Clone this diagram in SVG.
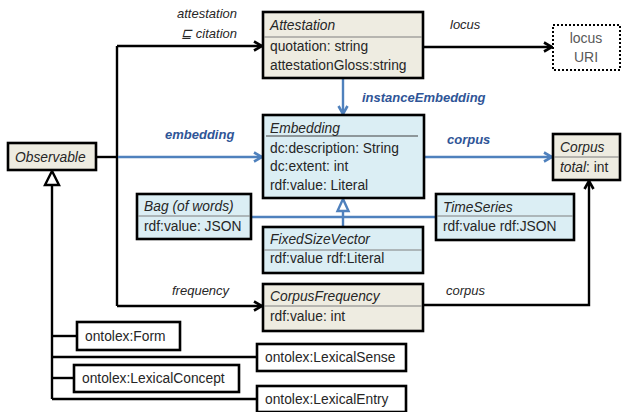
<svg xmlns="http://www.w3.org/2000/svg" width="623" height="412" viewBox="0 0 623 412">
<style>
  text { font-family: "Liberation Sans", Arial, sans-serif; font-size: 13.8px; fill: #262626; }
  .it { font-style: italic; }
  .lbl { font-style: italic; font-size: 13px; fill: #262626; }
  .blbl { font-style: italic; font-weight: bold; font-size: 13px; fill: #2f5597; }
  .box { stroke: #000; stroke-width: 2.6; }
  .beige { fill: #eeece1; }
  .blue { fill: #dbeef4; }
  .white { fill: #fff; }
  .div { stroke: #7f7f7f; stroke-width: 1; }
  .k { fill: none; stroke: #000; stroke-width: 2.4; }
  .b { fill: none; stroke: #4f81bd; stroke-width: 2.4; }
  .uri { fill: #595959; font-size: 14px; }
</style>
<defs>
  <marker id="ak" viewBox="0 0 12 12" refX="10" refY="6" markerWidth="12" markerHeight="12" markerUnits="userSpaceOnUse" orient="auto">
    <path d="M2,1.5 L10,6 L2,10.5" fill="none" stroke="#000" stroke-width="2.6"/>
  </marker>
  <marker id="ab" viewBox="0 0 12 12" refX="10" refY="6" markerWidth="12" markerHeight="12" markerUnits="userSpaceOnUse" orient="auto">
    <path d="M2,1.5 L10,6 L2,10.5" fill="none" stroke="#4f81bd" stroke-width="2.6"/>
  </marker>
</defs>
<rect width="623" height="412" fill="#fff"/>

<g id="connectors">
  <path class="k" d="M96,157 H117"/>
  <path class="k" d="M117,46 V306"/>
  <path class="k" d="M117,46 H262" marker-end="url(#ak)"/>
  <path class="k" d="M117,306 H262" marker-end="url(#ak)"/>
  <path class="b" d="M118,157 H262" marker-end="url(#ab)"/>
  <path class="k" d="M423,47 H552" marker-end="url(#ak)"/>
  <path class="b" d="M343,78 V114" marker-end="url(#ab)"/>
  <path class="b" d="M424,157 H552" marker-end="url(#ab)"/>
  <path class="b" d="M251,217 H436"/>
  <path class="b" d="M343,211 V227"/>
  <polygon points="343,199 337.5,211 348.5,211" fill="#fff" stroke="#4f81bd" stroke-width="2.4"/>
  <path class="k" d="M423,305 H589 V181" marker-end="url(#ak)"/>
  <path class="k" d="M52,185 V399"/>
  <path class="k" d="M52,336 H77"/>
  <path class="k" d="M52,357 H257"/>
  <path class="k" d="M52,378 H74"/>
  <path class="k" d="M52,399 H257"/>
  <polygon points="52,171 45,185 59,185" fill="#fff" stroke="#000" stroke-width="2.4"/>
  <text class="lbl" x="237" y="18" text-anchor="end">attestation</text>
  <text class="lbl" x="237" y="38" text-anchor="end">⊑ citation</text>
  <text class="lbl" x="450" y="29">locus</text>
  <text class="blbl" x="362" y="102">instanceEmbedding</text>
  <text class="blbl" x="165" y="139">embedding</text>
  <text class="blbl" x="447" y="144">corpus</text>
  <text class="lbl" x="172" y="295">frequency</text>
  <text class="lbl" x="446" y="295">corpus</text>
</g>

<g id="observable">
  <rect class="box beige" x="8" y="143" width="88" height="27"/>
  <text class="it" x="15" y="162">Observable</text>
</g>

<g id="attestation">
  <rect class="box beige" x="263" y="12" width="160" height="66"/>
  <line class="div" x1="264" y1="37" x2="422" y2="37"/>
  <text class="it" x="270" y="30">Attestation</text>
  <text x="270" y="51">quotation: string</text>
  <text x="270" y="70">attestationGloss:string</text>
</g>

<g id="locus-uri">
  <rect x="553" y="25" width="67" height="45" fill="#fff" stroke="#000" stroke-width="2" stroke-dasharray="2,2"/>
  <text class="uri" x="586" y="43" text-anchor="middle">locus</text>
  <text class="uri" x="586" y="62" text-anchor="middle">URI</text>
</g>

<g id="embedding">
  <rect class="box blue" x="263" y="115" width="161" height="83"/>
  <line x1="266" y1="136" x2="418" y2="136" stroke="#404040" stroke-width="1"/>
  <text class="it" x="270" y="133">Embedding</text>
  <text x="270" y="153">dc:description: String</text>
  <text x="270" y="171">dc:extent: int</text>
  <text x="270" y="190">rdf:value: Literal</text>
</g>

<g id="corpus">
  <rect class="box beige" x="553" y="134" width="67" height="46"/>
  <line class="div" x1="554" y1="157" x2="619" y2="157"/>
  <text class="it" x="560" y="152">Corpus</text>
  <text x="560" y="172"><tspan class="it">total</tspan>: int</text>
</g>

<g id="bag">
  <rect class="box blue" x="137" y="194" width="114" height="45"/>
  <line class="div" x1="138" y1="216" x2="250" y2="216"/>
  <text class="it" x="144" y="211">Bag (of words)</text>
  <text x="144" y="231">rdf:value: JSON</text>
</g>

<g id="timeseries">
  <rect class="box blue" x="436" y="194" width="138" height="46"/>
  <line class="div" x1="437" y1="216" x2="573" y2="216"/>
  <text class="it" x="443" y="212">TimeSeries</text>
  <text x="443" y="231">rdf:value rdf:JSON</text>
</g>

<g id="fixedsizevector">
  <rect class="box blue" x="263" y="227" width="160" height="46"/>
  <line class="div" x1="264" y1="250" x2="422" y2="250"/>
  <text class="it" x="270" y="244">FixedSizeVector</text>
  <text x="270" y="263">rdf:value rdf:Literal</text>
</g>

<g id="corpusfrequency">
  <rect class="box beige" x="263" y="284" width="160" height="47"/>
  <line class="div" x1="264" y1="306" x2="422" y2="306"/>
  <text class="it" x="270" y="301">CorpusFrequency</text>
  <text x="270" y="321">rdf:value: int</text>
</g>

<g id="form">
  <rect class="box white" x="77" y="322" width="103" height="28"/>
  <text x="85" y="341">ontolex:Form</text>
</g>

<g id="lexicalsense">
  <rect class="box white" x="257" y="344" width="149" height="27"/>
  <text x="265" y="362">ontolex:LexicalSense</text>
</g>

<g id="lexicalconcept">
  <rect class="box white" x="74" y="365" width="165" height="27"/>
  <text x="82" y="383">ontolex:LexicalConcept</text>
</g>

<g id="lexicalentry">
  <rect class="box white" x="257" y="386" width="149" height="26"/>
  <text x="265" y="404">ontolex:LexicalEntry</text>
</g>
</svg>
